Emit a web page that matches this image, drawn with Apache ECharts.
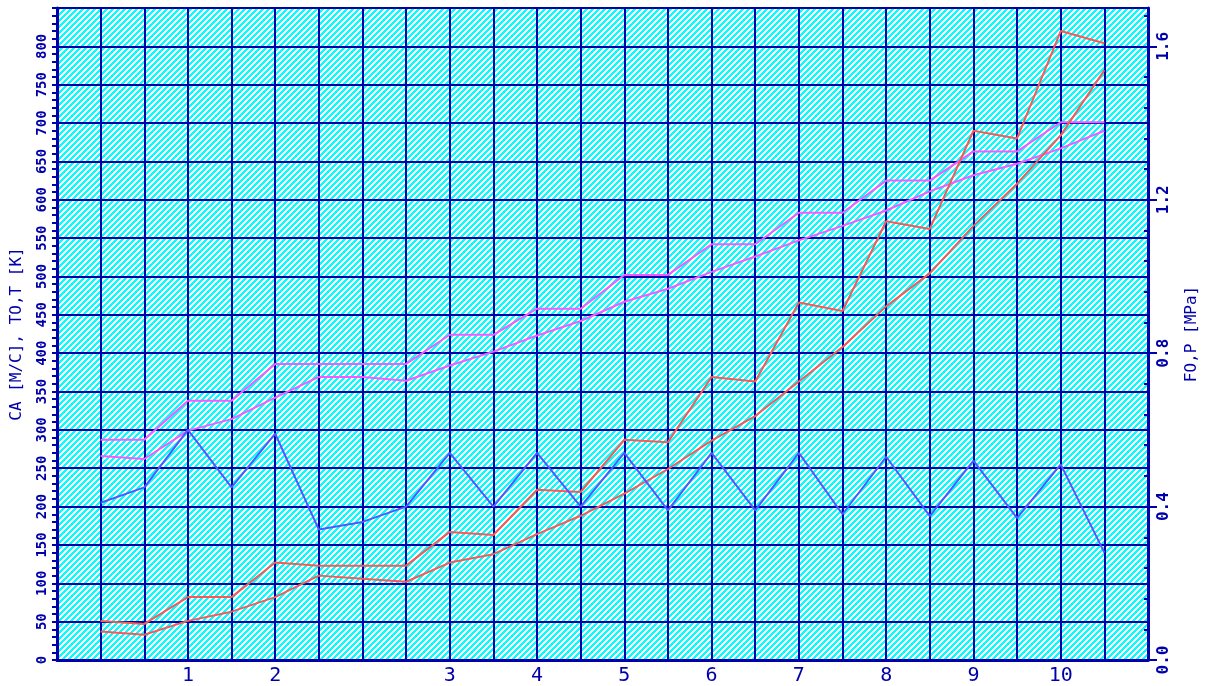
<!DOCTYPE html>
<html>
<head>
<meta charset="utf-8">
<script src="https://cdn.jsdelivr.net/npm/echarts@6/dist/echarts.min.js"></script>
<style>
  html, body { margin: 0; padding: 0; background: #fff; }
  #chart { width: 1210px; height: 686px; }
</style>
</head>
<body>
<div id="chart"></div>
<script>
// tick labels for the 26 grid columns (0..25)
var xTickLabels = ['', '', '', '1', '', '2', '', '', '', '3', '', '4', '', '5', '', '6', '', '7', '', '8', '', '9', '', '10', '', ''];

// values at columns 1..24
var pinkUpper = [287, 287, 338, 338, 386, 386, 386, 386, 424, 424, 458, 458, 502, 502, 542, 542, 583, 583, 625, 625, 663, 663, 701, 701];
var pinkLower = [266, 262, 299, 314, 342, 369, 369, 364, 384, 402, 423, 442, 467, 484, 506, 526, 547, 566, 586, 611, 632, 647, 667, 690];
var redUpper = [51, 47, 82, 82, 127, 123, 123, 123, 167, 163, 222, 219, 287, 284, 369, 363, 466, 455, 572, 562, 690, 680, 820, 804];
var redLower = [37, 33, 51, 63, 82, 110, 106, 102, 127, 138, 164, 188, 217, 249, 286, 318, 363, 408, 461, 504, 566, 621, 684, 769];
// pressure, right axis [MPa]
var bluePress = [0.41, 0.45, 0.60, 0.45, 0.59, 0.34, 0.36, 0.40, 0.54, 0.40, 0.54, 0.40, 0.54, 0.39, 0.54, 0.39, 0.54, 0.38, 0.53, 0.375, 0.52, 0.37, 0.51, 0.28];

function toPoints(arr) {
    return arr.map(function (v, i) { return [i + 1, v]; });
}

// hatched cyan background: short horizontal dashes stacked on a diagonal
var pat = document.createElement('canvas');
pat.width = 6;
pat.height = 6;
var pc = pat.getContext('2d');
pc.fillStyle = '#ffffff';
pc.fillRect(0, 0, 6, 6);
pc.fillStyle = '#00ffff';
for (var y = 0; y < 6; y++) {
    for (var x = 0; x < 6; x++) {
        if ((x + y) % 6 < 3) pc.fillRect(x, y, 1, 1);
    }
}

var dark = '#0000aa';
var font = 'DejaVu Sans Mono';

var chart = echarts.init(document.getElementById('chart'));

var option = {
    animation: false,
    grid: {
        left: 57, right: 62, top: 8, bottom: 25,
        show: true,
        backgroundColor: { image: pat, repeat: 'repeat' },
        borderColor: dark,
        borderWidth: 2
    },
    xAxis: {
        type: 'value',
        min: 0, max: 25, interval: 1,
        axisLine: { lineStyle: { color: dark, width: 3 } },
        axisTick: { show: false },
        splitLine: { lineStyle: { color: dark, width: 2 } },
        axisLabel: {
            color: dark, fontFamily: font, fontSize: 20, margin: 6,
            showMinLabel: true, showMaxLabel: true,
            formatter: function (v) { return xTickLabels[v] || ''; }
        }
    },
    yAxis: [
        {
            type: 'value',
            min: 0, max: 850, interval: 50,
            name: 'CA [M/C], TO,T [K]',
            nameLocation: 'middle',
            nameRotate: 90,
            nameGap: 32,
            nameTextStyle: { color: dark, fontFamily: font, fontSize: 16 },
            axisLine: { show: true, lineStyle: { color: dark, width: 3 } },
            axisTick: { show: true, length: 5, lineStyle: { color: dark, width: 2 } },
            minorTick: { show: true, splitNumber: 5, length: 5, lineStyle: { color: dark, width: 2 } },
            splitLine: { lineStyle: { color: dark, width: 2 } },
            axisLabel: {
                color: dark, fontFamily: font, fontSize: 14, fontWeight: 'bold',
                rotate: 90, margin: 8, showMaxLabel: false
            }
        },
        {
            type: 'value',
            position: 'right',
            min: 0, max: 1.7, interval: 0.4,
            name: 'FO,P [MPa]',
            nameLocation: 'middle',
            nameRotate: 90,
            nameGap: 36,
            nameTextStyle: { color: dark, fontFamily: font, fontSize: 16 },
            axisLine: { show: true, lineStyle: { color: dark, width: 3 } },
            axisTick: { show: true, length: 9, lineStyle: { color: dark, width: 2 } },
            splitLine: { show: false },
            axisLabel: {
                color: dark, fontFamily: font, fontSize: 16, fontWeight: 'bold',
                rotate: 90, margin: 8, showMaxLabel: false,
                formatter: function (v) { return v.toFixed(1); }
            }
        },
        {
            // inner minor ticks of the right axis
            type: 'value',
            position: 'right',
            min: 0, max: 1.7, interval: 0.4,
            axisLine: { show: false },
            axisTick: { show: false, inside: true },
            minorTick: { show: true, splitNumber: 5, length: 4, lineStyle: { color: dark, width: 2 } },
            splitLine: { show: false },
            axisLabel: { show: false }
        }
    ],
    series: [
        {
            type: 'line', yAxisIndex: 0, data: toPoints(pinkUpper),
            symbol: 'none', lineStyle: { color: '#ff55ff', width: 2 }
        },
        {
            type: 'line', yAxisIndex: 0, data: toPoints(pinkLower),
            symbol: 'none', lineStyle: { color: '#ff55ff', width: 2 }
        },
        {
            type: 'line', yAxisIndex: 0, data: toPoints(redUpper),
            symbol: 'none', lineStyle: { color: '#ff5555', width: 2 }
        },
        {
            type: 'line', yAxisIndex: 0, data: toPoints(redLower),
            symbol: 'none', lineStyle: { color: '#ff5555', width: 2 }
        },
        {
            type: 'line', yAxisIndex: 1, data: toPoints(bluePress),
            symbol: 'none', lineStyle: { color: '#5555ff', width: 2 }
        }
    ]
};

chart.setOption(option);

window.onresize = chart.resize;
</script>
</body>
</html>
